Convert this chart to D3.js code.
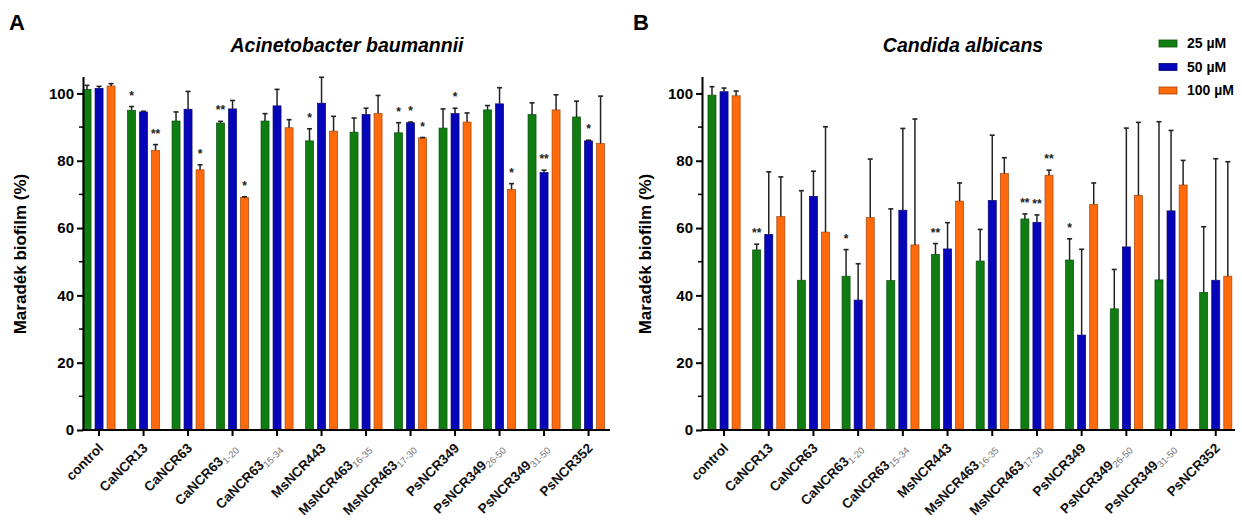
<!DOCTYPE html>
<html>
  <head>
    <meta http-equiv="Content-Type" content="text/html; charset=UTF-8">
    <script type="text/javascript" src="https://cdn.jsdelivr.net/npm/d3@7/dist/d3.min.js"></script>
    <style>
      body { margin: 0; background: #fff; }
      svg { display: block; font-family: Arial, "Liberation Sans", sans-serif; }
    </style>
  </head>
  <body>
    <div id="chart"></div>
    <script>
// categories: [main name, subscript]
var categories = [
  ["control", ""], ["CaNCR13", ""], ["CaNCR63", ""], ["CaNCR63", "1-20"],
  ["CaNCR63", "15-34"], ["MsNCR443", ""], ["MsNCR463", "16-35"], ["MsNCR463", "17-30"],
  ["PsNCR349", ""], ["PsNCR349", "26-50"], ["PsNCR349", "31-50"], ["PsNCR352", ""]
];
var seriesNames = ["25 µM", "50 µM", "100 µM"];
var yTicks = [0, 20, 40, 60, 80, 100];

// A: Acinetobacter baumannii (mean, SD)
var abMean25  = [101.2, 95.0, 91.8, 91.2, 91.8, 85.9, 88.5, 88.3, 89.7, 95.1, 93.7, 93.0];
var abSd25    = [1.2, 1.1, 2.7, 0.5, 2.2, 3.6, 4.2, 3.0, 5.7, 1.3, 3.5, 4.7];
var abMean50  = [101.5, 94.5, 95.3, 95.4, 96.3, 97.1, 93.7, 91.3, 94.0, 96.9, 76.5, 85.9];
var abSd50    = [0.6, 0.2, 5.3, 2.5, 4.9, 7.7, 1.9, 0.2, 1.6, 4.8, 0.7, 0.2];
var abMean100 = [102.2, 83.1, 77.3, 69.1, 89.8, 88.8, 94.0, 86.8, 91.5, 71.5, 95.1, 85.1];
var abSd100   = [0.7, 1.7, 1.5, 0.2, 2.4, 4.4, 5.4, 0.1, 2.7, 1.7, 4.5, 14.1];
var abSig25   = ["", "*", "", "**", "", "*", "", "*", "", "", "", ""];
var abSig50   = ["", "", "", "", "", "", "", "*", "*", "", "**", "*"];
var abSig100  = ["", "**", "*", "*", "", "", "", "*", "", "*", "", ""];

// B: Candida albicans (mean, SD)
var caMean25  = [99.5, 53.5, 44.5, 45.7, 44.4, 52.2, 50.2, 62.7, 50.5, 36.0, 44.6, 40.9];
var caSd25    = [2.5, 1.7, 26.6, 7.9, 21.3, 3.2, 9.4, 1.5, 6.3, 11.7, 47.0, 19.5];
var caMean50  = [100.5, 58.1, 69.4, 38.6, 65.3, 53.8, 68.2, 61.7, 28.2, 54.4, 65.1, 44.5];
var caSd50    = [1.1, 18.6, 7.5, 10.8, 24.3, 7.8, 19.4, 2.2, 25.5, 35.3, 23.9, 36.1];
var caMean100 = [99.3, 63.4, 58.8, 63.1, 55.0, 68.0, 76.2, 75.7, 67.0, 69.7, 72.8, 45.7];
var caSd100   = [1.4, 11.8, 31.3, 17.4, 37.4, 5.4, 4.7, 1.5, 6.4, 21.7, 7.3, 34.0];
var caSig25   = ["", "**", "", "*", "", "**", "", "**", "*", "", "", ""];
var caSig50   = ["", "", "", "", "", "", "", "**", "", "", "", ""];
var caSig100  = ["", "", "", "", "", "", "", "**", "", "", "", ""];

var colors = ["#0f7d12", "#0606b8", "#ff6a0c"];

var width = 1242, height = 522;
var svg = d3.select("#chart").append("svg")
    .attr("width", width)
    .attr("height", height);

var y = d3.scaleLinear().domain([0, 105]).range([430, 76.6]);

var panels = [
  { letter: "A", title: "Acinetobacter baumannii",
    means: [abMean25, abMean50, abMean100], sds: [abSd25, abSd50, abSd100],
    sigs: [abSig25, abSig50, abSig100],
    axisX: 83, axisEnd: 610, bandStart: 76.8, step: 44.5,
    titleX: 347, letterX: 9, ylabX: 26 },
  { letter: "B", title: "Candida albicans",
    means: [caMean25, caMean50, caMean100], sds: [caSd25, caSd50, caSd100],
    sigs: [caSig25, caSig50, caSig100],
    axisX: 702, axisEnd: 1235, bandStart: 701.7, step: 44.7,
    titleX: 963, letterX: 633, ylabX: 651 }
];

panels.forEach(function (p) {
  var g = svg.append("g");
  var n = categories.length;

  var x = d3.scaleBand()
      .domain(d3.range(n))
      .range([p.bandStart, p.bandStart + n * p.step])
      .paddingInner(0.28)
      .paddingOuter(0.14);
  var xs = d3.scaleBand()
      .domain(d3.range(3))
      .range([0, x.bandwidth()])
      .paddingInner(1 / 3);

  // bars + error bars
  p.means.forEach(function (vals, s) {
    var sg = g.append("g");
    var col = colors[s];
    sg.selectAll("rect")
        .data(vals)
      .enter().append("rect")
        .attr("x", function (d, i) { return x(i) + xs(s); })
        .attr("y", function (d) { return y(d); })
        .attr("width", xs.bandwidth())
        .attr("height", function (d) { return y(0) - y(d); })
        .attr("fill", col)
        .attr("stroke", d3.color(col).darker(1.2))
        .attr("stroke-width", 0.7);

    var cx = function (i) { return x(i) + xs(s) + xs.bandwidth() / 2; };
    var top = function (d, i) { return y(d + p.sds[s][i]); };

    sg.selectAll(".eb")
        .data(vals)
      .enter().append("line")
        .attr("x1", function (d, i) { return cx(i); })
        .attr("x2", function (d, i) { return cx(i); })
        .attr("y1", function (d) { return y(d); })
        .attr("y2", top)
        .attr("stroke", "#222")
        .attr("stroke-width", 1.5);
    sg.selectAll(".cap")
        .data(vals)
      .enter().append("line")
        .attr("x1", function (d, i) { return cx(i) - 2.5; })
        .attr("x2", function (d, i) { return cx(i) + 2.5; })
        .attr("y1", top)
        .attr("y2", top)
        .attr("stroke", "#222")
        .attr("stroke-width", 1.6);

    sg.selectAll(".sig")
        .data(vals)
      .enter().append("text")
        .attr("x", function (d, i) { return cx(i); })
        .attr("y", function (d, i) { return top(d, i) - 7; })
        .attr("text-anchor", "middle")
        .attr("font-size", "12px")
        .attr("font-weight", "bold")
        .attr("fill", "#222")
        .text(function (d, i) { return p.sigs[s][i]; });
  });

  // y axis
  var yAxis = d3.axisLeft(y).tickValues(yTicks).tickSize(6).tickSizeOuter(0).tickPadding(3);
  var ya = g.append("g")
      .attr("transform", "translate(" + p.axisX + ",0)")
      .call(yAxis);
  ya.select(".domain").attr("stroke-width", 2);
  ya.selectAll(".tick line").attr("stroke-width", 2);
  ya.selectAll(".tick text")
      .attr("font-size", "15px")
      .attr("font-weight", "bold")
      .attr("font-family", "Arial, 'Liberation Sans', sans-serif")
      .attr("fill", "#000");
  g.append("g").selectAll("line")
      .data([10, 30, 50, 70, 90])
    .enter().append("line")
      .attr("x1", p.axisX - 4)
      .attr("x2", p.axisX)
      .attr("y1", function (d) { return y(d); })
      .attr("y2", function (d) { return y(d); })
      .attr("stroke", "#000")
      .attr("stroke-width", 1.5);

  // x axis
  g.append("line")
      .attr("x1", p.axisX - 1)
      .attr("x2", p.axisEnd)
      .attr("y1", y(0))
      .attr("y2", y(0))
      .attr("stroke", "#000")
      .attr("stroke-width", 2);
  g.append("g").selectAll("line")
      .data(d3.range(n))
    .enter().append("line")
      .attr("x1", function (i) { return x(i) + x.bandwidth() / 2; })
      .attr("x2", function (i) { return x(i) + x.bandwidth() / 2; })
      .attr("y1", y(0))
      .attr("y2", y(0) + 6)
      .attr("stroke", "#000")
      .attr("stroke-width", 2);

  var lab = g.append("g").selectAll("text")
      .data(categories)
    .enter().append("text")
      .attr("transform", function (d, i) {
        return "translate(" + (x(i) + x.bandwidth() / 2 + 5) + "," + 449 + ") rotate(-45)";
      })
      .attr("text-anchor", "end");
  lab.append("tspan")
      .attr("font-size", "13.5px")
      .attr("font-weight", "bold")
      .attr("fill", "#111")
      .text(function (d) { return d[0]; });
  lab.append("tspan")
      .attr("font-size", "9.5px")
      .attr("fill", "#777")
      .attr("dy", 3)
      .text(function (d) { return d[1]; });

  // y label
  g.append("text")
      .attr("transform", "translate(" + p.ylabX + "," + 254 + ") rotate(-90)")
      .attr("text-anchor", "middle")
      .attr("font-size", "17px")
      .attr("font-weight", "bold")
      .text("Maradék biofilm (%)");

  // title and panel letter
  g.append("text")
      .attr("x", p.titleX)
      .attr("y", 52)
      .attr("text-anchor", "middle")
      .attr("font-size", "19.5px")
      .attr("font-weight", "bold")
      .attr("font-style", "italic")
      .text(p.title);
  g.append("text")
      .attr("x", p.letterX)
      .attr("y", 30)
      .attr("font-size", "22px")
      .attr("font-weight", "bold")
      .text(p.letter);
});

// legend
var leg = svg.append("g").selectAll("g")
    .data(seriesNames)
  .enter().append("g")
    .attr("transform", function (d, i) { return "translate(1159," + (40 + i * 23.5) + ")"; });
leg.append("rect")
    .attr("width", 18)
    .attr("height", 7)
    .attr("fill", function (d, i) { return colors[i]; })
    .attr("stroke", function (d, i) { return d3.color(colors[i]).darker(1.2); })
    .attr("stroke-width", 0.8);
leg.append("text")
    .attr("x", 28)
    .attr("y", 3.5)
    .attr("dy", "0.35em")
    .attr("font-size", "14px")
    .attr("font-weight", "bold")
    .text(function (d) { return d; });
    </script>
  </body>
</html>
